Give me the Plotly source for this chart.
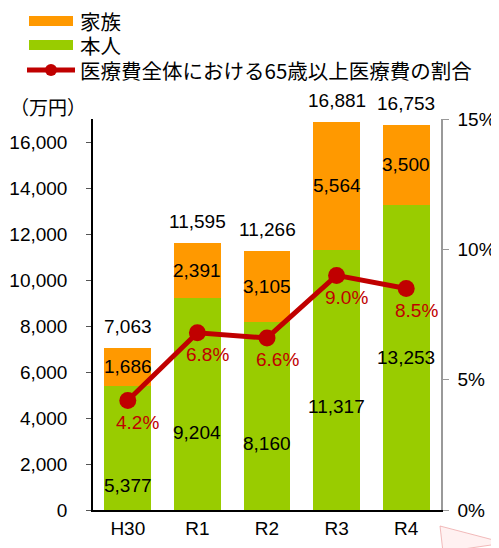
import plotly.graph_objects as go

categories = ["H30", "R1", "R2", "R3", "R4"]
honnin = [5377, 9204, 8160, 11317, 13253]
kazoku = [1686, 2391, 3105, 5564, 3500]
totals = [7063, 11595, 11266, 16881, 16753]
ratio = [0.042, 0.068, 0.066, 0.090, 0.085]
ratio_labels = ["4.2%", "6.8%", "6.6%", "9.0%", "8.5%"]
left_ticks = [0, 2000, 4000, 6000, 8000, 10000, 12000, 14000, 16000]
right_ticks = [0, 0.05, 0.10, 0.15]

ORANGE = "#FF9900"
GREEN = "#99CC00"
RED = "#C00000"
NUM_FONT = "Liberation Sans, Arial, sans-serif"
JP_FONT = "Noto Sans CJK JP, sans-serif"

green_label_shift = [-37, -28, -27, -27, 0]

fig = go.Figure()
fig.add_trace(go.Bar(
    x=categories, y=honnin, name="本人", marker=dict(color=GREEN, line=dict(width=0)),
    showlegend=False,
))
fig.add_trace(go.Bar(
    x=categories, y=kazoku, name="家族", marker=dict(color=ORANGE, line=dict(width=0)),
    showlegend=False,
))
fig.add_trace(go.Scatter(
    x=categories, y=ratio, yaxis="y2", mode="lines+markers",
    line=dict(color=RED, width=5), marker=dict(color=RED, size=17),
    showlegend=False,
))

annotations = []
for c, h, s in zip(categories, honnin, green_label_shift):
    annotations.append(dict(x=c, y=h / 2, xref="x", yref="y", text=f"{h:,}", showarrow=False,
                            yshift=s, font=dict(family=NUM_FONT, size=19, color="black")))
for c, h, k in zip(categories, honnin, kazoku):
    annotations.append(dict(x=c, y=h + k / 2, xref="x", yref="y", text=f"{k:,}", showarrow=False,
                            font=dict(family=NUM_FONT, size=19, color="black")))
for c, t in zip(categories, totals):
    annotations.append(dict(x=c, y=t, xref="x", yref="y", text=f"{t:,}", showarrow=False,
                            yanchor="bottom", yshift=9, font=dict(family=NUM_FONT, size=19, color="black")))
for c, r, lab in zip(categories, ratio, ratio_labels):
    annotations.append(dict(x=c, y=r, xref="x", yref="y2", text=lab, showarrow=False,
                            yanchor="middle", xshift=10, yshift=-22,
                            font=dict(family=NUM_FONT, size=19, color=RED)))

# paper coordinates from page pixels (plot area spans x 93..441, y 119..510 on the page)
def px(xp):
    return (xp - 93) / 348

def py(yp):
    return (510 - yp) / 391

# y-axis unit
annotations.append(dict(x=px(8), y=py(107), xref="paper", yref="paper", text="（万円）", showarrow=False,
                        xanchor="left", yanchor="middle", font=dict(family=JP_FONT, size=19, color="black")))

# manual legend
legend_items = [("家族", ORANGE, 21), ("本人", GREEN, 45), ("医療費全体における65歳以上医療費の割合", RED, 70)]
shapes = []
for name, color, yc in legend_items:
    annotations.append(dict(x=px(78), y=py(yc), xref="paper", yref="paper", text=name, showarrow=False,
                            xanchor="left", yanchor="middle",
                            font=dict(family=JP_FONT, size=20.5, color="black")))
    if color == RED:
        shapes.append(dict(type="line", xref="paper", yref="paper", x0=px(27), x1=px(75), y0=py(yc), y1=py(yc),
                           line=dict(color=RED, width=5)))
        shapes.append(dict(type="circle", xref="paper", yref="paper", x0=px(45), x1=px(57),
                           y0=py(yc + 6), y1=py(yc - 6), fillcolor=RED, line=dict(color=RED, width=0)))
    else:
        shapes.append(dict(type="rect", xref="paper", yref="paper", x0=px(29), x1=px(73),
                           y0=py(yc + 5), y1=py(yc - 5), fillcolor=color, line=dict(width=0)))

# faint decorative triangle in the bottom-right corner
shapes.append(dict(type="path", xref="paper", yref="paper",
                   path=f"M {px(440)} {py(526)} L {px(505)} {py(543)} L {px(443)} {py(552)} Z",
                   fillcolor="rgba(255,215,215,0.35)", line=dict(color="rgba(235,160,160,0.7)", width=1)))

# the page body adds an 8px margin, so the figure is 8px smaller and offsets are shifted
fig.update_layout(
    width=491, height=540,
    margin=dict(l=85, r=58, t=111, b=38, autoexpand=False),
    barmode="stack", bargap=0.325,
    plot_bgcolor="white", paper_bgcolor="white",
    font=dict(family=NUM_FONT, size=19, color="black"),
    xaxis=dict(showline=True, linecolor="black", linewidth=1.5, ticks="", showgrid=False, automargin=False,
               tickfont=dict(family=NUM_FONT, size=19, color="black")),
    yaxis=dict(range=[0, 17000], tickvals=left_ticks, tickformat=",", showline=True, linecolor="black",
               linewidth=1.5, ticks="outside", ticklen=5, tickcolor="#555", showgrid=False, zeroline=False,
               automargin=False,
               tickfont=dict(family=NUM_FONT, size=19, color="black"), ticklabelstandoff=15),
    yaxis2=dict(range=[0, 0.15], tickvals=right_ticks, tickformat=".0%", overlaying="y", side="right",
                showline=True, linecolor="#999", linewidth=1.5, ticks="outside", ticklen=6, tickcolor="#999",
                showgrid=False, zeroline=False, automargin=False,
                tickfont=dict(family=NUM_FONT, size=19, color="black"),
                ticklabelstandoff=5),
    annotations=annotations,
    shapes=shapes,
    showlegend=False,
)

fig.write_html("out.html")
